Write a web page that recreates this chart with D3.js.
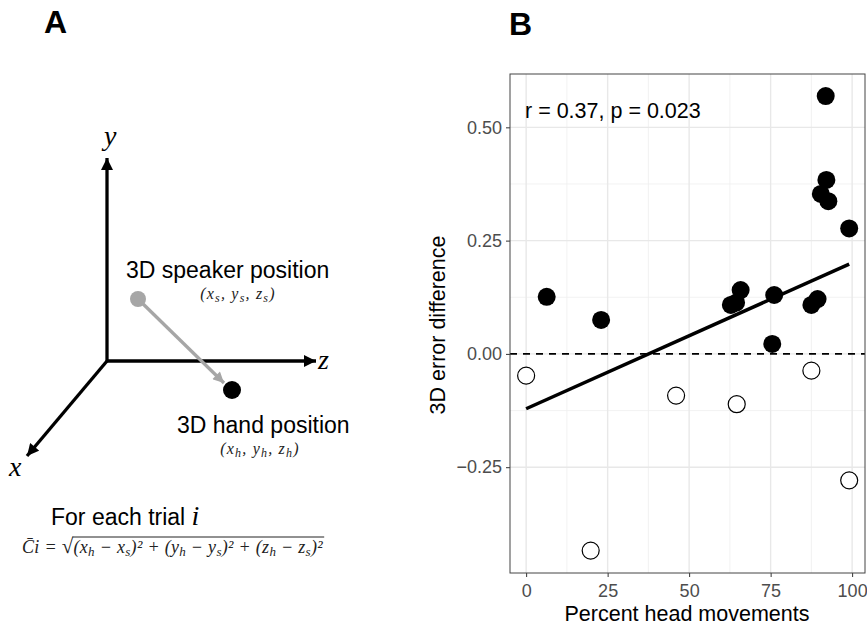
<!DOCTYPE html>
<html><head><meta charset="utf-8">
<script src="https://cdn.jsdelivr.net/npm/d3@7"></script>
<style>body{margin:0;background:#fff}svg{display:block}</style>
</head><body>
<svg id="c" width="867" height="628"></svg>
<script>
// ---- Panel B data ----
const xTicks = [0, 25, 50, 75, 100];
const yTicks = [-0.25, 0, 0.25, 0.5];
const yTickLabels = ["\u22120.25", "0.00", "0.25", "0.50"];
const filledX = [6.3, 23.0, 62.8, 64.4, 65.8, 76.1, 75.5, 87.5, 89.4, 91.9, 92.1, 90.4, 92.7, 99.1];
const filledY = [0.126, 0.075, 0.108, 0.113, 0.141, 0.130, 0.022, 0.108, 0.121, 0.569, 0.384, 0.353, 0.337, 0.277];
const openX = [0, 19.8, 46.0, 64.6, 87.5, 99.1];
const openY = [-0.048, -0.434, -0.092, -0.111, -0.037, -0.279];
const fitRange = [0, 99.1];
const fitIntercept = -0.121;
const fitSlope = 0.00322;
const statLabel = "r = 0.37, p = 0.023";
const xTitle = "Percent head movements";
const yTitle = "3D error difference";

const svg = d3.select("#c");
const sans = "Liberation Sans, Arial, Helvetica, sans-serif";
const serif = "Liberation Serif, DejaVu Serif, serif";

// ---- Panel labels ----
svg.append("text").attr("x", 44).attr("y", 33).attr("font-family", sans).attr("font-weight", "bold")
  .attr("font-size", 32).text("A");
svg.append("text").attr("x", 509).attr("y", 35).attr("font-family", sans).attr("font-weight", "bold")
  .attr("font-size", 32).text("B");

// ---- Panel B ----
const L = 510, R = 865, T = 74, B = 573;
const x = d3.scaleLinear().domain([-4.95, 103.95]).range([L, R]);
const y = d3.scaleLinear().domain([-0.4835, 0.6177]).range([B, T]);

const gB = svg.append("g");
// minor grid
const xMinor = xTicks.slice(0, -1).map((d, i) => (d + xTicks[i + 1]) / 2);
const yMinor = yTicks.slice(0, -1).map((d, i) => (d + yTicks[i + 1]) / 2);
gB.selectAll(".xm").data(xMinor).join("line").attr("x1", d => x(d)).attr("x2", d => x(d))
  .attr("y1", T).attr("y2", B).attr("stroke", "#efefef").attr("stroke-width", 0.8);
gB.selectAll(".ym").data(yMinor).join("line").attr("y1", d => y(d)).attr("y2", d => y(d))
  .attr("x1", L).attr("x2", R).attr("stroke", "#efefef").attr("stroke-width", 0.8);
// major grid
gB.selectAll(".xg").data(xTicks).join("line").attr("x1", d => x(d)).attr("x2", d => x(d))
  .attr("y1", T).attr("y2", B).attr("stroke", "#e8e8e8").attr("stroke-width", 1.4);
gB.selectAll(".yg").data(yTicks).join("line").attr("y1", d => y(d)).attr("y2", d => y(d))
  .attr("x1", L).attr("x2", R).attr("stroke", "#e8e8e8").attr("stroke-width", 1.4);

// axes
const xAxis = d3.axisBottom(x).tickValues(xTicks).tickSize(4).tickPadding(7).tickFormat(d3.format("d"));
const yAxis = d3.axisLeft(y).tickValues(yTicks).tickSize(4).tickPadding(4)
  .tickFormat((d, i) => yTickLabels[i]);
const gx = gB.append("g").attr("transform", `translate(0,${B})`).call(xAxis);
const gy = gB.append("g").attr("transform", `translate(${L},0)`).call(yAxis);
[gx, gy].forEach(g => {
  g.select(".domain").remove();
  g.selectAll(".tick line").attr("stroke", "#333").attr("stroke-width", 1);
  g.selectAll(".tick text").attr("fill", "#4d4d4d").attr("font-family", sans).attr("font-size", 18);
});

// zero dashed line
gB.append("line").attr("x1", L).attr("x2", R).attr("y1", y(0)).attr("y2", y(0))
  .attr("stroke", "#000").attr("stroke-width", 1.8).attr("stroke-dasharray", "7,6");

// fit line
gB.append("line").attr("x1", x(fitRange[0])).attr("x2", x(fitRange[1]))
  .attr("y1", y(fitIntercept + fitSlope * fitRange[0])).attr("y2", y(fitIntercept + fitSlope * fitRange[1]))
  .attr("stroke", "#000").attr("stroke-width", 3.5);

// points
gB.selectAll(".f").data(filledX).join("circle").attr("cx", d => x(d)).attr("cy", (d, i) => y(filledY[i]))
  .attr("r", 9).attr("fill", "#000");
gB.selectAll(".o").data(openX).join("circle").attr("cx", d => x(d)).attr("cy", (d, i) => y(openY[i]))
  .attr("r", 8.5).attr("fill", "#fff").attr("stroke", "#000").attr("stroke-width", 1.2);

// border
gB.append("rect").attr("x", L).attr("y", T).attr("width", R - L).attr("height", B - T)
  .attr("fill", "none").attr("stroke", "#444").attr("stroke-width", 1);

// stat label
gB.append("text").attr("x", 525).attr("y", 118).attr("font-family", sans).attr("font-size", 21.5)
  .attr("fill", "#000").text(statLabel);
// titles
gB.append("text").attr("x", 687).attr("y", 621).attr("text-anchor", "middle")
  .attr("font-family", sans).attr("font-size", 21.5).text(xTitle);
gB.append("text").attr("transform", `translate(445,325) rotate(-90)`).attr("text-anchor", "middle")
  .attr("font-family", sans).attr("font-size", 21.5).text(yTitle);

// ---- Panel A diagram ----
const gA = svg.append("g");
const defs = svg.append("defs");
function marker(id, color, w, h) {
  defs.append("marker").attr("id", id).attr("viewBox", "0 0 10 10").attr("refX", 10).attr("refY", 5)
    .attr("markerWidth", w).attr("markerHeight", h).attr("orient", "auto").attr("markerUnits", "userSpaceOnUse")
    .append("path").attr("d", "M0,0L10,5L0,10z").attr("fill", color);
}
marker("ab", "#000", 14, 12);
marker("ag", "#a6a6a6", 13, 11);

const origin = [107, 361];
const axisEnds = [[107, 158], [316, 361], [27, 456]];
axisEnds.forEach(e => {
  gA.append("line").attr("x1", origin[0]).attr("y1", origin[1]).attr("x2", e[0]).attr("y2", e[1])
    .attr("stroke", "#000").attr("stroke-width", 3.3).attr("marker-end", "url(#ab)");
});
gA.append("text").attr("x", 104).attr("y", 145).attr("font-family", serif).attr("font-style", "italic")
  .attr("font-size", 28).text("y");
gA.append("text").attr("x", 318).attr("y", 369).attr("font-family", serif).attr("font-style", "italic")
  .attr("font-size", 28).text("z");
gA.append("text").attr("x", 9).attr("y", 476).attr("font-family", serif).attr("font-style", "italic")
  .attr("font-size", 28).text("x");

// speaker -> hand
gA.append("line").attr("x1", 138).attr("y1", 299).attr("x2", 224).attr("y2", 383)
  .attr("stroke", "#a6a6a6").attr("stroke-width", 3.3).attr("marker-end", "url(#ag)");
gA.append("circle").attr("cx", 138).attr("cy", 299).attr("r", 8).attr("fill", "#a6a6a6");
gA.append("circle").attr("cx", 232).attr("cy", 390).attr("r", 9).attr("fill", "#000");

gA.append("text").attr("x", 126).attr("y", 278).attr("font-family", sans).attr("font-size", 23).text("3D speaker position");
gA.append("text").attr("x", 177).attr("y", 433).attr("font-family", sans).attr("font-size", 23).text("3D hand position");

function coordText(xc, yb, sub) {
  const t = gA.append("text").attr("x", xc).attr("y", yb).attr("font-family", serif).attr("font-style", "italic")
    .attr("font-size", 16).attr("letter-spacing", 1.2).attr("fill", "#222").attr("text-anchor", "middle");
  t.append("tspan").text("(x");
  t.append("tspan").attr("dy", 3).attr("font-size", 12).text(sub);
  t.append("tspan").attr("dy", -3).text(", y");
  t.append("tspan").attr("dy", 3).attr("font-size", 12).text(sub);
  t.append("tspan").attr("dy", -3).text(", z");
  t.append("tspan").attr("dy", 3).attr("font-size", 12).text(sub);
  t.append("tspan").attr("dy", -3).text(")");
}
coordText(238, 299, "s");
coordText(260, 454, "h");

gA.append("text").attr("x", 51).attr("y", 525).attr("font-family", sans).attr("font-size", 23)
  .text("For each trial ")
  .append("tspan").attr("font-family", serif).attr("font-style", "italic").attr("font-size", 28).text("i");

// formula
const fy = 553;
const ft = gA.append("text").attr("x", 22).attr("y", fy).attr("font-family", serif).attr("font-style", "italic")
  .attr("font-size", 18).attr("letter-spacing", 0.3).attr("fill", "#222");
ft.append("tspan").text("C\u0304i = ");
const sq = ft.append("tspan").attr("font-style", "normal").attr("font-size", 21).text("\u221A");
const segs = [["(x", "h"], [" \u2212 x", "s"], [")\u00B2 + (y", "h"], [" \u2212 y", "s"], [")\u00B2 + (z", "h"], [" \u2212 z", "s"], [")\u00B2", ""]];
let pendingUp = false;
segs.forEach(s => {
  const main = ft.append("tspan").text(s[0]);
  if (pendingUp) main.attr("dy", -3);
  pendingUp = false;
  if (s[1]) {
    ft.append("tspan").attr("dy", 3).attr("font-size", 13).text(s[1]);
    pendingUp = true;
  }
});
const bb = ft.node().getBBox();
const sqEnd = sq.node().getEndPositionOfChar(0);
gA.append("line").attr("x1", sqEnd.x - 1).attr("x2", bb.x + bb.width + 1)
  .attr("y1", fy - 16).attr("y2", fy - 16).attr("stroke", "#222").attr("stroke-width", 1);
</script>
</body></html>
